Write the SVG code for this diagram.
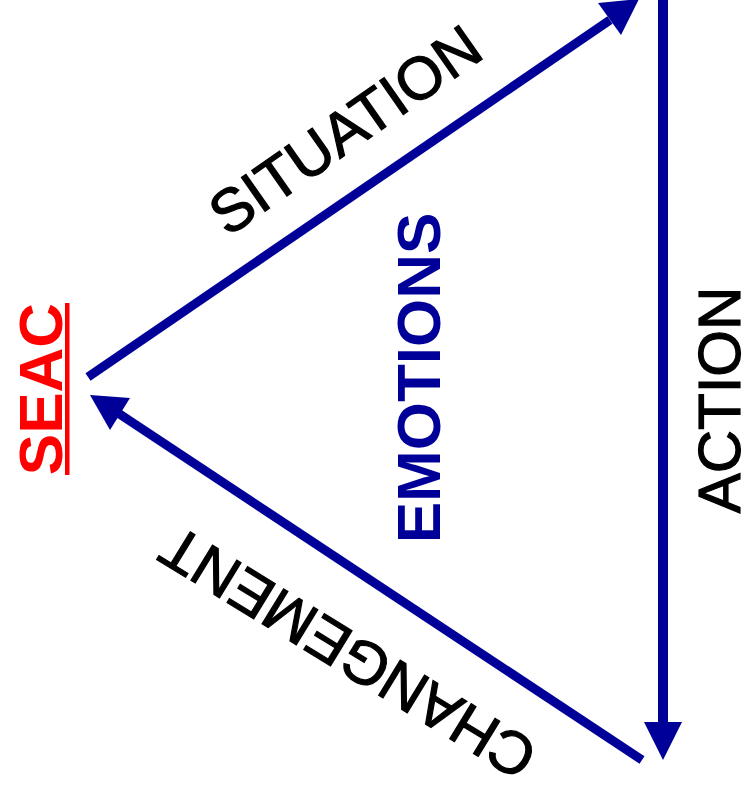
<svg xmlns="http://www.w3.org/2000/svg" width="749" height="796" viewBox="0 0 749 796">
<style>
.ln{stroke:#000099;fill:none;stroke-linecap:butt}
.hd{fill:#000099}
.lbl{font-family:"Liberation Sans",Arial,sans-serif;font-size:60px;fill:#000;stroke:#000;stroke-width:1.2}
.emo{font-family:"Liberation Sans",Arial,sans-serif;font-weight:bold;font-size:62px;fill:#000099}
.seac{font-family:"Liberation Sans",Arial,sans-serif;font-weight:bold;font-size:62px;fill:#ff0000}
</style>
<rect width="749" height="796" fill="#fff"/>
<g id="connectors">
<line class="ln" x1="88" y1="377" x2="610" y2="20" stroke-width="9"/>
<polygon class="hd" points="639,-1 598,3 621,35"/>
<line class="ln" x1="663" y1="-5" x2="663" y2="724" stroke-width="10"/>
<polygon class="hd" points="644,722 682,722 663,760"/>
<line class="ln" x1="642" y1="760" x2="118" y2="413" stroke-width="9"/>
<polygon class="hd" points="90,395 130,398 110,430"/>
</g>
<g id="situation"><text class="lbl" font-size="62" text-anchor="middle" transform="translate(357,147) rotate(-35)">SITUATION</text></g>
<g id="changement"><text class="lbl" text-anchor="middle" transform="translate(359,635) rotate(211.5)">CHANGEMENT</text></g>
<g id="action"><text class="lbl" font-size="61" text-anchor="middle" transform="translate(740,400) rotate(-90)">ACTION</text></g>
<g id="emotions"><text class="emo" text-anchor="middle" transform="translate(440,378) rotate(-90)">EMOTIONS</text></g>
<g id="seac"><text class="seac" text-anchor="middle" transform="translate(62,389) rotate(-90)">SEAC</text>
<rect x="65" y="303" width="4.5" height="172" fill="#ff0000"/></g>
</svg>
